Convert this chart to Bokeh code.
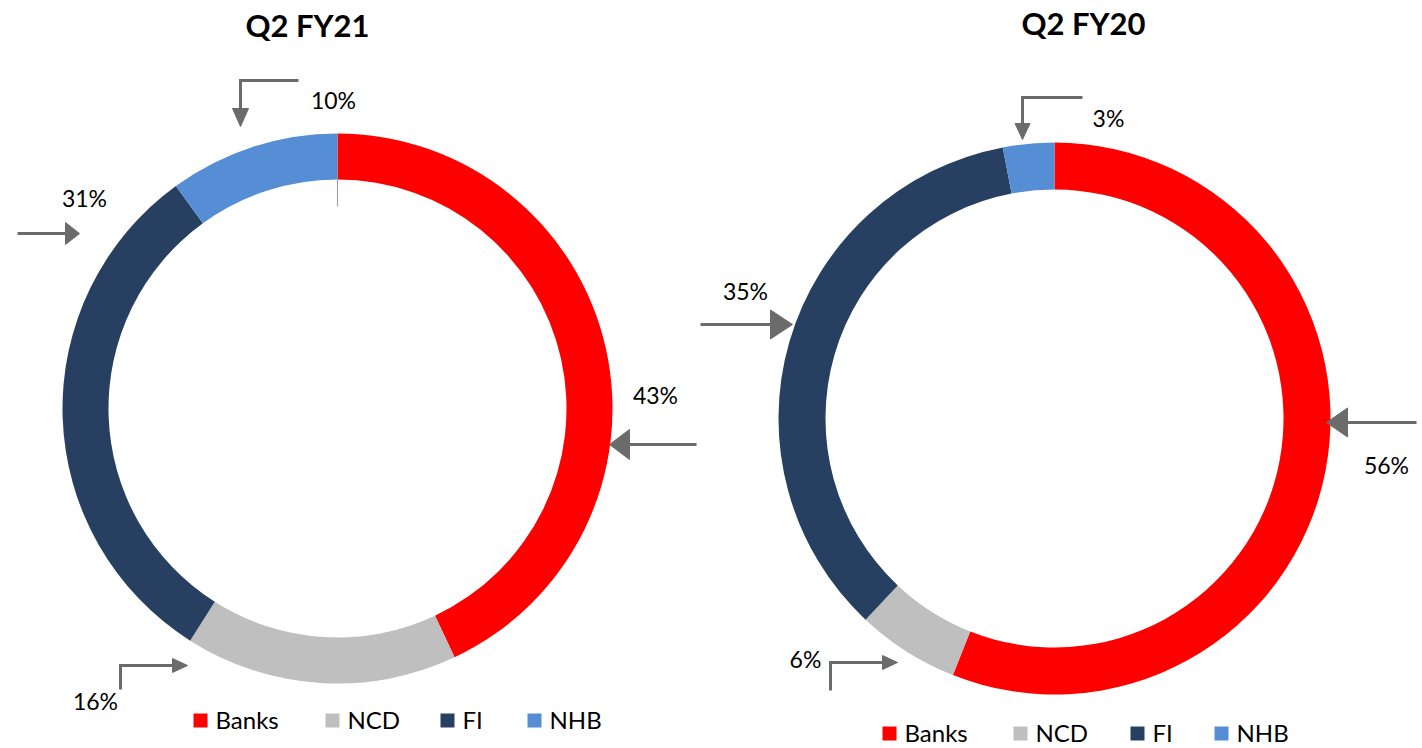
import math
from bokeh.plotting import figure
from bokeh.models import Range1d, ColumnDataSource
from bokeh.core.properties import value
from bokeh.embed import file_html
from bokeh.resources import INLINE

# ---------------- data ----------------
categories = ["Banks", "NCD", "FI", "NHB"]
q2_fy21 = [43, 16, 31, 10]
q2_fy20 = [56, 6, 35, 3]
chart_titles = ["Q2 FY21", "Q2 FY20"]
colors = ["#FF0000", "#BFBFBF", "#274061", "#558ED5"]

# ---------------- layout (page pixels) ----------------
W, H = 1422, 748
OX, OY = 0, 0
FONT = "Lato"
ARROW = "#6B6B6B"


def Y(yp):
    return (OY + H + OY) - yp


p = figure(width=W, height=H, x_range=Range1d(OX, OX + W), y_range=Range1d(OY, OY + H),
           output_backend="svg", toolbar_location=None, x_axis_type=None, y_axis_type=None,
           min_border=0, outline_line_color=None)
p.grid.visible = False
p.background_fill_color = "white"
p.border_fill_color = "white"

charts = [
    dict(vals=q2_fy21, title=chart_titles[0], cx=337, cy=408, R=275, r=229, tpos=(307, 24),
         labels=[(655, 394), (95, 700), (84, 197), (333, 99)],
         arrows=[
             ([(696, 444), (629, 444)], (609, 444), 20, 30),
             ([(120, 689), (120, 665), (172, 665)], (187, 665), 15, 14),
             ([(17, 233), (65, 233)], (79, 233), 14, 22),
             ([(298, 80), (240, 80), (240, 108)], (240, 126), 18, 16),
         ],
         leg_x=[193, 325, 440, 527], leg_y=719),
    dict(vals=q2_fy20, title=chart_titles[1], cx=1054, cy=418, R=276, r=229, tpos=(1083, 22),
         labels=[(1386, 464), (805, 658), (745, 290), (1108, 117)],
         arrows=[
             ([(1416, 422), (1347, 422)], (1326, 422), 21, 29),
             ([(830, 690), (830, 662), (882, 662)], (897, 662), 15, 14),
             ([(700, 324), (770, 324)], (792, 324), 22, 29),
             ([(1082, 97), (1022, 97), (1022, 123)], (1022, 139), 16, 15),
         ],
         leg_x=[882, 1013, 1130, 1214], leg_y=732),
]

for ch in charts:
    vals = ch["vals"]
    total = float(sum(vals))
    starts, ends = [], []
    c = 0.0
    for v in vals:
        c0 = c / total
        c += v
        c1 = c / total
        # clockwise from 12 o'clock
        starts.append(math.pi / 2 - 2 * math.pi * c1)
        ends.append(math.pi / 2 - 2 * math.pi * c0)
    src = ColumnDataSource(dict(start=starts, end=ends, color=colors, cat=categories))
    p.annular_wedge(x=ch["cx"], y=Y(ch["cy"]), inner_radius=ch["r"], outer_radius=ch["R"],
                    start_angle="start", end_angle="end", fill_color="color",
                    line_color=None, source=src)

    # title
    p.text(x=[ch["tpos"][0]], y=[Y(ch["tpos"][1])], text=[ch["title"]],
           text_font=value(FONT), text_font_style="bold", text_font_size="31px",
           text_align="center", text_baseline="middle", text_color="black")

    # percentage labels
    p.text(x=[l[0] for l in ch["labels"]], y=[Y(l[1]) for l in ch["labels"]],
           text=[f"{v}%" for v in vals], text_font=value(FONT), text_font_size="23px",
           text_align="center", text_baseline="middle", text_color="black")

    # arrows
    xs, ys, hx, hy = [], [], [], []
    for path, tip, ln, wd in ch["arrows"]:
        xs.append([pt[0] for pt in path])
        ys.append([Y(pt[1]) for pt in path])
        lx, ly = path[-1]
        dx, dy = tip[0] - lx, tip[1] - ly
        d = math.hypot(dx, dy)
        ux, uy = dx / d, dy / d
        bx, by = tip[0] - ux * ln, tip[1] - uy * ln
        nx, ny = -uy, ux
        hx.append([tip[0], bx + nx * wd / 2, bx - nx * wd / 2])
        hy.append([Y(tip[1]), Y(by + ny * wd / 2), Y(by - ny * wd / 2)])
    p.multi_line(xs=xs, ys=ys, line_color=ARROW, line_width=3, line_join="miter")
    p.patches(xs=hx, ys=hy, fill_color=ARROW, line_color=ARROW, line_width=1)

    # legend
    lx = ch["leg_x"]
    ly = ch["leg_y"]
    p.rect(x=[x + 7 for x in lx], y=[Y(ly + 1)] * len(lx), width=14, height=14,
           fill_color=colors, line_color=None)
    p.text(x=[x + 22 for x in lx], y=[Y(ly)] * len(lx), text=categories,
           text_font=value(FONT), text_font_size="24px", text_align="left",
           text_baseline="middle", text_color="black")

# thin leader line at top of first donut
p.segment(x0=[337], y0=[Y(179)], x1=[337], y1=[Y(206)], line_color="#9C8FBF", line_width=1)

open("out.html", "w").write(file_html(p, INLINE))
